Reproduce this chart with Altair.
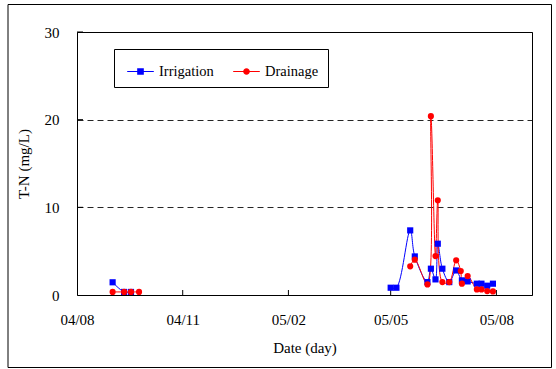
import altair as alt
import pandas as pd

# ---------------- data ----------------
series_names = ["Irrigation", "Drainage"]
series_colors = ["#0000ff", "#ff0000"]

irr_dates = ["2004-09-01", "2004-09-11", "2004-09-17",
             "2005-05-01", "2005-05-06", "2005-05-18", "2005-05-22", "2005-06-02",
             "2005-06-05", "2005-06-09", "2005-06-11", "2005-06-15", "2005-06-21",
             "2005-06-27", "2005-07-02", "2005-07-07", "2005-07-15", "2005-07-19",
             "2005-07-24", "2005-07-29"]
irr_values = [1.45, 0.35, 0.35,
              0.83, 0.83, 7.37, 4.4, 1.47,
              3.0, 1.78, 5.85, 3.0, 1.47,
              2.8, 1.67, 1.55, 1.29, 1.29,
              1.06, 1.29]
irr_segment = [1, 1, 1] + [2] * 17

dr_dates = ["2004-09-01", "2004-09-11", "2004-09-17", "2004-09-24",
            "2005-05-18", "2005-05-22", "2005-06-02", "2005-06-05", "2005-06-09",
            "2005-06-11", "2005-06-15", "2005-06-21", "2005-06-27", "2005-07-01",
            "2005-07-02", "2005-07-07", "2005-07-15", "2005-07-19", "2005-07-24",
            "2005-07-29"]
dr_values = [0.35, 0.35, 0.35, 0.35,
             3.27, 4.03, 1.21, 20.4, 4.44,
             10.8, 1.47, 1.47, 3.95, 2.73,
             1.29, 2.16, 0.64, 0.64, 0.45,
             0.41]
dr_segment = [1, 1, 1, 1] + [2] * 16

axis_start = "2004-08-01"
axis_end = "2005-09-01"
tick_dates = ["2004-08-01", "2004-11-01", "2005-02-01", "2005-05-01", "2005-08-01"]
tick_labels = ["04/08", "04/11", "05/02", "05/05", "05/08"]
y_ticks = [0, 10, 20, 30]

# ---------------- build table ----------------
base = pd.Timestamp(axis_start)


def to_day(s):
    return int((pd.Timestamp(s) - base).days)


rows = []
for name, dates, vals, segs in [
    (series_names[0], irr_dates, irr_values, irr_segment),
    (series_names[1], dr_dates, dr_values, dr_segment),
]:
    for d, v, s in zip(dates, vals, segs):
        rows.append({"series": name, "day": to_day(d), "value": v,
                     "segment": f"{name}-{s}", "order": series_names.index(name)})
df = pd.DataFrame(rows)

tick_days = [to_day(d) for d in tick_dates]
label_expr = " : ".join(f"datum.value == {d} ? '{l}'" for d, l in zip(tick_days, tick_labels)) + " : ''"

W, H = 455, 263
FONT = "'Liberation Serif', 'Times New Roman', Times, serif"

x_scale = alt.Scale(domain=[0, to_day(axis_end)], nice=False, zero=False)
y_scale = alt.Scale(domain=[0, 30], nice=False)

x_axis = alt.Axis(values=tick_days, labelExpr=label_expr, title="Date (day)", grid=False,
                  ticks=False, tickSize=0, domain=False, labelPadding=17, titlePadding=13,
                  labelFlush=False, labelOverlap=False)
y_axis = alt.Axis(values=y_ticks, grid=True, gridDash=[6, 4], gridColor="black",
                  gridOpacity=0.85, ticks=False, tickSize=0, domain=False,
                  labelPadding=18, title="T-N (mg/L)", titlePadding=13)

color_scale = alt.Scale(domain=series_names, range=series_colors)
X = alt.X("day:Q", scale=x_scale, axis=x_axis)
Y = alt.Y("value:Q", scale=y_scale, axis=y_axis)

lines = alt.Chart(df).mark_line(interpolate="catmull-rom", strokeWidth=1).encode(
    x=X, y=Y,
    color=alt.Color("series:N", scale=color_scale, legend=None),
    detail="segment:N",
    order="day:Q",
)

points = alt.Chart(df).mark_point(filled=True, opacity=1, size=38).encode(
    x=X, y=Y,
    color=alt.Color("series:N", scale=color_scale, legend=None),
    shape=alt.Shape("series:N", scale=alt.Scale(domain=series_names, range=["square", "circle"]), legend=None),
    order="order:Q",
)

legend_paths = [
    "M-1,-0.04H-0.2V0.04H-1Z M0.2,-0.04H1V0.04H0.2Z M-0.25,-0.25H0.25V0.25H-0.25Z",
    "M-1,-0.04H-0.2V0.04H-1Z M0.2,-0.04H1V0.04H0.2Z M0.25,0A0.25,0.25 0 1,1 -0.25,0A0.25,0.25 0 1,1 0.25,0Z",
]
leg = alt.Legend(orient="none", legendX=37, legendY=17, direction="horizontal", columns=2,
                 columnPadding=15, padding=9, symbolOffset=4, labelOffset=5, symbolSize=708,
                 symbolOpacity=1, strokeColor="black", fillColor="white", labelFont=FONT,
                 labelFontSize=14.5, labelColor="black", title=None, symbolStrokeWidth=0)

legend_layer = alt.Chart(df).mark_point(filled=True, opacity=0).encode(
    x=X, y=Y,
    color=alt.Color("series:N", scale=color_scale, legend=leg),
    shape=alt.Shape("series:N", scale=alt.Scale(domain=series_names, range=legend_paths), legend=leg),
)

xt = pd.DataFrame({"day": tick_days[1:]})
x_tick_rules = alt.Chart(xt).mark_rule(color="black", strokeWidth=1).encode(
    x=alt.X("day:Q", scale=x_scale, axis=x_axis), y=alt.value(H), y2=alt.value(H - 5)
)
yt = pd.DataFrame({"value": y_ticks[1:]})
y_tick_rules = alt.Chart(yt).mark_rule(color="black", strokeWidth=1).encode(
    y=alt.Y("value:Q", scale=y_scale, axis=y_axis), x=alt.value(0), x2=alt.value(6)
)

frame = alt.Chart(alt.Data(values=[{"k": 1}])).mark_rect(
    fill=None, stroke="black", strokeWidth=1, clip=False
).encode(x=alt.value(-69), x2=alt.value(474.5), y=alt.value(-27.5), y2=alt.value(335.5))

chart = alt.layer(frame, x_tick_rules, y_tick_rules, lines, points, legend_layer).resolve_scale(
    color="independent", shape="independent"
).properties(
    width=W, height=H, autosize=alt.AutoSizeParams(type="none"),
    padding={"left": 77, "top": 32, "right": 24, "bottom": 74},
    background="white",
).configure_view(stroke="black", strokeWidth=1).configure_axis(
    labelFont=FONT, titleFont=FONT, labelFontSize=15, titleFontSize=15,
    labelColor="black", titleColor="black", titleFontWeight="normal",
)

chart.save("out.html", embed_options={"renderer": "svg", "actions": False})
